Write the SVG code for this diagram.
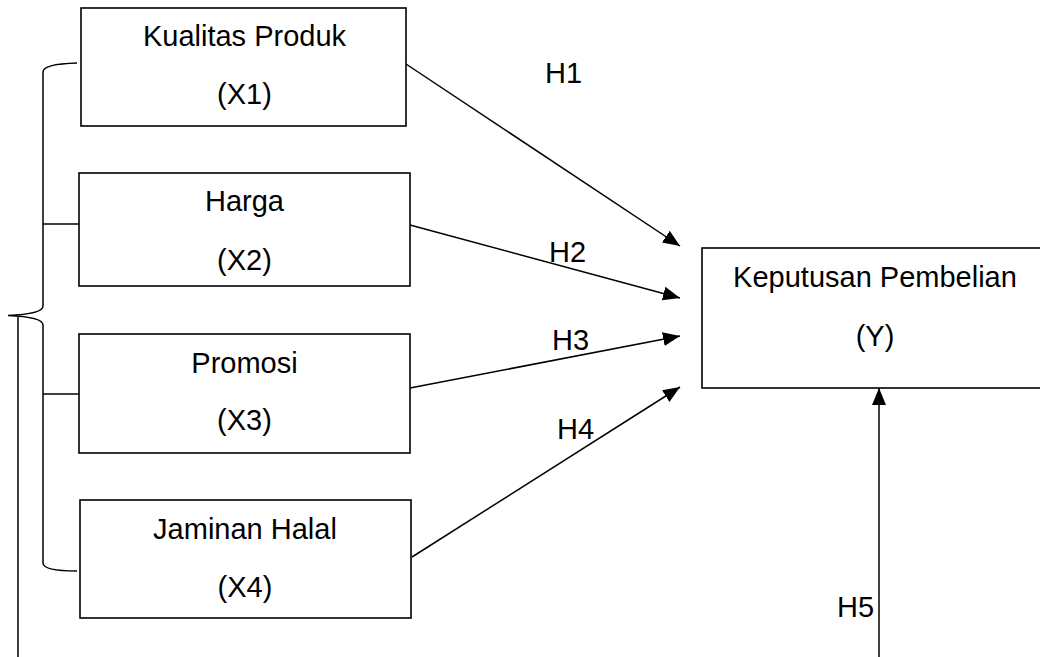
<svg xmlns="http://www.w3.org/2000/svg" width="1040" height="657" viewBox="0 0 1040 657">
<style>
.box{fill:#fff;stroke:#000;stroke-width:1.6}
.t{font-family:"Liberation Sans",Arial,sans-serif;font-size:29px;fill:#000;text-anchor:middle}
.h{font-family:"Liberation Sans",Arial,sans-serif;font-size:29px;fill:#000}
.ln{fill:none;stroke:#000;stroke-width:1.5}
</style>
<defs>
<marker id="arr" markerUnits="userSpaceOnUse" markerWidth="18" markerHeight="15" refX="17" refY="7" orient="auto">
<path d="M0,0 L17,7 L0,14 z" fill="#000"/>
</marker>
</defs>
<rect width="1040" height="657" fill="#fff"/>
<g id="brace">
<path class="ln" d="M77,63 Q43,64 43,72 L43,306 Q43,314 8,315.5 Q43,317 43,325 L43,563 Q43,571 77,571"/>
<line class="ln" x1="43" y1="224" x2="79" y2="224"/>
<line class="ln" x1="43" y1="394" x2="79" y2="394"/>
<line class="ln" x1="18" y1="317" x2="18" y2="657"/>
</g>
<g id="x1">
<rect class="box" x="81" y="8" width="325" height="118"/>
<text class="t" x="244.5" y="46">Kualitas Produk</text>
<text class="t" x="244.5" y="104">(X1)</text>
</g>
<g id="x2">
<rect class="box" x="79" y="173" width="331" height="113"/>
<text class="t" x="244.5" y="211">Harga</text>
<text class="t" x="244.5" y="270">(X2)</text>
</g>
<g id="x3">
<rect class="box" x="79" y="334" width="331" height="119"/>
<text class="t" x="244.5" y="373">Promosi</text>
<text class="t" x="244.5" y="430">(X3)</text>
</g>
<g id="x4">
<rect class="box" x="80" y="500" width="331" height="118"/>
<text class="t" x="245" y="539">Jaminan Halal</text>
<text class="t" x="245" y="597">(X4)</text>
</g>
<g id="y">
<rect class="box" x="702" y="248" width="345" height="140"/>
<text class="t" x="875" y="287">Keputusan Pembelian</text>
<text class="t" x="875" y="346">(Y)</text>
</g>
<g id="connectors">
<line class="ln" x1="406" y1="64" x2="680" y2="246" marker-end="url(#arr)"/>
<line class="ln" x1="410" y1="225" x2="680" y2="298" marker-end="url(#arr)"/>
<line class="ln" x1="410" y1="388" x2="680" y2="336" marker-end="url(#arr)"/>
<line class="ln" x1="412" y1="557" x2="680" y2="387" marker-end="url(#arr)"/>
<line class="ln" x1="879" y1="657" x2="879" y2="388" marker-end="url(#arr)"/>
<text class="h" x="545" y="83">H1</text>
<text class="h" x="549" y="262">H2</text>
<text class="h" x="552" y="350">H3</text>
<text class="h" x="557" y="439">H4</text>
<text class="h" x="837" y="617">H5</text>
</g>
</svg>
